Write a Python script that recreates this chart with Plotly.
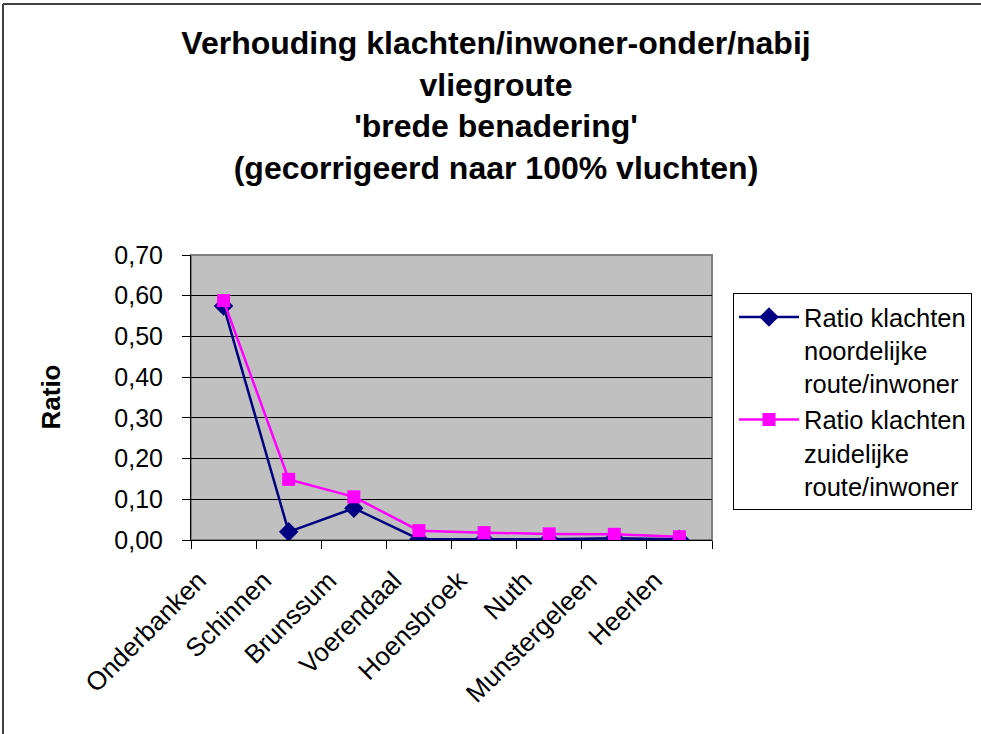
import plotly.graph_objects as go

categories = ["Onderbanken", "Schinnen", "Brunssum", "Voerendaal", "Hoensbroek",
              "Nuth", "Munstergeleen", "Heerlen"]
noord = [0.575, 0.020, 0.078, 0.002, 0.002, 0.002, 0.004, 0.002]
zuid = [0.588, 0.149, 0.106, 0.023, 0.018, 0.015, 0.014, 0.008]
name_noord = "Ratio klachten<br>noordelijke<br>route/inwoner"
name_zuid = "Ratio klachten<br>zuidelijke<br>route/inwoner"
y_ticks = [0.0, 0.1, 0.2, 0.3, 0.4, 0.5, 0.6, 0.7]

FONT = "Liberation Sans, Arial, sans-serif"
W, H = 981, 734
L, R, T, B = 191, 269, 255, 194
pw, ph = W - L - R, H - T - B

def px_x(p):
    return (p - L) / pw

def px_y(p):
    return (H - B - p) / ph

fig = go.Figure()
fig.add_trace(go.Scatter(
    x=categories, y=noord, name=name_noord, mode="lines+markers",
    line=dict(color="#000080", width=2.5),
    marker=dict(symbol="diamond", size=15, color="#000080"),
))
fig.add_trace(go.Scatter(
    x=categories, y=zuid, name=name_zuid, mode="lines+markers",
    line=dict(color="#FF00FF", width=2.5),
    marker=dict(symbol="square", size=13, color="#FF00FF"),
))

fig.update_layout(
    width=W, height=H,
    margin=dict(l=L, r=R, t=T, b=B, autoexpand=False),
    paper_bgcolor="white",
    plot_bgcolor="#C0C0C0",
    separators=",.",
    font=dict(family=FONT, size=26, color="black"),
    title=dict(
        text="<b>Verhouding klachten/inwoner-onder/nabij<br>vliegroute<br>'brede benadering'<br>(gecorrigeerd naar 100% vluchten)</b>",
        x=496 / W, xref="container", xanchor="center",
        y=1 - 54 / H, yref="container", yanchor="top",
        font=dict(family=FONT, size=32, color="black"),
    ),
    legend=dict(
        x=px_x(733), y=px_y(293), xanchor="left", yanchor="top",
        bordercolor="black", borderwidth=1, bgcolor="white",
        font=dict(family=FONT, size=25.5, color="black"),
        tracegroupgap=0, valign="top", itemwidth=60,
    ),
    showlegend=True,
)

fig.update_xaxes(
    type="category", range=[-0.5, len(categories) - 0.5],
    tickson="boundaries", ticks="outside", ticklen=8, tickcolor="black", tickwidth=1,
    tickangle=-45, showgrid=False, showline=True, linecolor="black", linewidth=1,
    tickfont=dict(family=FONT, size=26, color="black"), zeroline=False,
    ticklabelstandoff=14, ticklabelshift=-25,
)
fig.update_yaxes(
    range=[0, 0.7], tickvals=y_ticks, tickformat=".2f",
    ticks="outside", ticklen=8, tickcolor="black", tickwidth=1,
    showgrid=True, gridcolor="black", gridwidth=1,
    showline=True, linecolor="black", linewidth=1, zeroline=False,
    tickfont=dict(family=FONT, size=25, color="black"),
    ticklabelstandoff=14,
)

fig.add_annotation(
    text="<b>Ratio</b>", textangle=-90, showarrow=False,
    xref="paper", yref="paper", x=px_x(50), y=0.5,
    xanchor="center", yanchor="middle",
    font=dict(family=FONT, size=26, color="black"),
)

# plot area border
fig.add_shape(type="rect", xref="paper", yref="paper", x0=0, y0=0, x1=1, y1=1,
              line=dict(color="#808080", width=2), layer="below")
# outer chart border (top and left visible)
fig.add_shape(type="line", xref="paper", yref="paper",
              x0=px_x(3), y0=px_y(4), x1=px_x(W + 10), y1=px_y(4),
              line=dict(color="#404040", width=2))
fig.add_shape(type="line", xref="paper", yref="paper",
              x0=px_x(3), y0=px_y(4), x1=px_x(3), y1=px_y(H + 10),
              line=dict(color="#404040", width=2))

fig.write_html("out.html", config={"displayModeBar": False},
               post_script="document.body.style.margin='0';")
